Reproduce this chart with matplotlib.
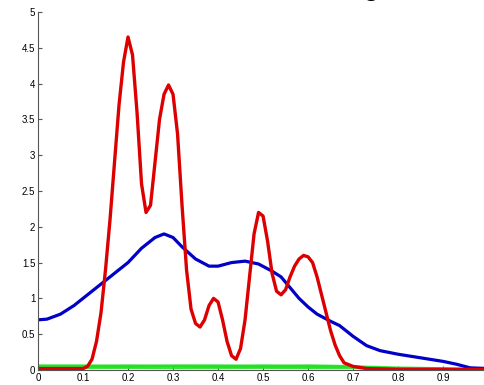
import matplotlib
matplotlib.use("Agg")
import matplotlib.pyplot as plt

# red density estimate (narrow bandwidth)
red_x = [0.0, 0.05, 0.10, 0.11, 0.12, 0.13, 0.14, 0.15, 0.16, 0.17, 0.18, 0.19,
         0.20, 0.21, 0.22, 0.23, 0.24, 0.25, 0.26, 0.27, 0.28, 0.29, 0.30, 0.31,
         0.32, 0.33, 0.34, 0.35, 0.36, 0.37, 0.38, 0.39, 0.40, 0.41, 0.42, 0.43,
         0.44, 0.45, 0.46, 0.47, 0.48, 0.49, 0.50, 0.51, 0.52, 0.53, 0.54, 0.55,
         0.56, 0.57, 0.58, 0.59, 0.60, 0.61, 0.62, 0.63, 0.64, 0.65, 0.66, 0.67,
         0.68, 0.70, 0.73, 0.80, 1.0]
red_y = [0.02, 0.02, 0.02, 0.05, 0.15, 0.40, 0.80, 1.40, 2.10, 2.90, 3.70, 4.30,
         4.65, 4.40, 3.60, 2.60, 2.20, 2.30, 2.90, 3.50, 3.85, 3.98, 3.85, 3.30,
         2.30, 1.40, 0.85, 0.65, 0.60, 0.70, 0.90, 1.00, 0.95, 0.70, 0.40, 0.20,
         0.15, 0.30, 0.70, 1.30, 1.90, 2.20, 2.15, 1.80, 1.35, 1.10, 1.05, 1.12,
         1.30, 1.45, 1.55, 1.60, 1.58, 1.50, 1.30, 1.05, 0.80, 0.55, 0.35, 0.20,
         0.10, 0.05, 0.02, 0.01, 0.01]

# blue density estimate (wide bandwidth)
blue_x = [0.0, 0.02, 0.05, 0.08, 0.10, 0.13, 0.16, 0.20, 0.23, 0.26, 0.28, 0.30,
          0.32, 0.35, 0.38, 0.40, 0.43, 0.46, 0.49, 0.52, 0.54, 0.56, 0.58, 0.60,
          0.62, 0.65, 0.67, 0.70, 0.73, 0.76, 0.80, 0.85, 0.90, 0.93, 0.96, 1.0]
blue_y = [0.70, 0.71, 0.78, 0.90, 1.00, 1.15, 1.30, 1.50, 1.70, 1.85, 1.90, 1.85,
          1.72, 1.55, 1.45, 1.45, 1.50, 1.52, 1.48, 1.38, 1.30, 1.15, 1.00, 0.88,
          0.78, 0.68, 0.62, 0.47, 0.34, 0.27, 0.22, 0.17, 0.12, 0.08, 0.03, 0.02]

# green sample curves hugging zero
green_x = [0.0, 0.1, 0.2, 0.3, 0.4, 0.5, 0.6, 0.7, 0.75, 0.8, 0.9, 1.0]
green_sets = [
    [0.07, 0.07, 0.06, 0.07, 0.07, 0.06, 0.07, 0.06, 0.04, 0.02, 0.01, 0.0],
    [0.06, 0.06, 0.07, 0.06, 0.06, 0.07, 0.06, 0.05, 0.03, 0.02, 0.01, 0.0],
    [0.05, 0.05, 0.05, 0.05, 0.05, 0.05, 0.05, 0.05, 0.04, 0.03, 0.02, 0.0],
    [0.04, 0.04, 0.04, 0.045, 0.04, 0.04, 0.04, 0.04, 0.03, 0.02, 0.01, 0.0],
    [0.03, 0.035, 0.03, 0.03, 0.035, 0.03, 0.03, 0.03, 0.02, 0.015, 0.01, 0.0],
    [0.02, 0.02, 0.025, 0.02, 0.02, 0.025, 0.02, 0.02, 0.02, 0.01, 0.005, 0.0],
    [0.06, 0.055, 0.06, 0.055, 0.06, 0.055, 0.06, 0.05, 0.05, 0.04, 0.03, 0.01],
    [0.045, 0.05, 0.045, 0.05, 0.045, 0.05, 0.045, 0.04, 0.03, 0.03, 0.02, 0.0],
]

x_ticks = [0, 0.1, 0.2, 0.3, 0.4, 0.5, 0.6, 0.7, 0.8, 0.9, 1.0]
x_labels = ["0", "0.1", "0.2", "0.3", "0.4", "0.5", "0.6", "0.7", "0.8", "0.9", ""]
y_ticks = [0, 0.5, 1, 1.5, 2, 2.5, 3, 3.5, 4, 4.5, 5]
y_labels = ["0", "0.5", "1", "1.5", "2", "2.5", "3", "3.5", "4", "4.5", "5"]

plt.rcParams["font.family"] = ["Liberation Sans", "DejaVu Sans"]

fig = plt.figure(figsize=(4.84, 3.85), dpi=100)
ax = fig.add_axes([0.0785, 0.039, 0.93, 0.930])

for gy in green_sets:
    ax.plot(green_x, gy, color="#22e022", lw=1.0, alpha=0.8)
ax.plot(blue_x, blue_y, color="#0000c8", lw=2.3)
ax.plot(red_x, red_y, color="#dd0000", lw=2.4)

ax.set_xlim(0, 1)
ax.set_ylim(0, 5)
ax.set_xticks(x_ticks)
ax.set_xticklabels(x_labels)
ax.set_yticks(y_ticks)
ax.set_yticklabels(y_labels)
ax.tick_params(direction="in", length=3, labelsize=7, color="#555555", pad=2)
for side in ["top", "right"]:
    ax.spines[side].set_visible(False)
for side in ["left", "bottom"]:
    ax.spines[side].set_color("#555555")
    ax.spines[side].set_linewidth(0.8)

# cropped title, only the bottom of the descender shows
fig.text(371 / 484, 1.016, "g", fontsize=22, ha="center", va="baseline")

fig.savefig("out.png", dpi=100)
